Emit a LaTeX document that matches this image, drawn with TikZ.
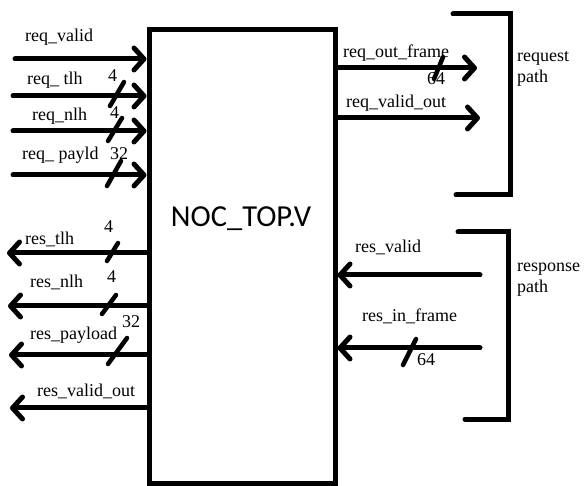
\documentclass[tikz,border=0pt]{standalone}
\usepackage{fontspec}
\setmainfont{Liberation Serif}
\newfontfamily\boxfont{Carlito}
\usetikzlibrary{arrows.meta}
\begin{document}
\begin{tikzpicture}[x=1pt,y=-1pt,
  sig/.style={line width=5pt, line cap=round, -{Straight Barb[length=10pt,width=22pt,round]}},
  busmark/.style={line width=4.5pt, line cap=round},
  brk/.style={line width=5pt, line cap=round},
  lbl/.style={anchor=base west, inner sep=0pt, font=\fontsize{18}{21}\selectfont},
  side/.style={anchor=base west, inner sep=0pt, align=left, font=\fontsize{18}{21}\selectfont}]
\useasboundingbox (0,0) rectangle (584,486);
\fill[white] (0,0) rectangle (584,486);

% main block
\node[draw, line width=5pt, minimum width=186pt, minimum height=453pt, inner sep=0pt] (box) at (242,256.5) {};
\node[anchor=base, inner sep=0pt, font=\boxfont\fontsize{30.5}{36}\selectfont] (title) at (241,227) {NOC\_TOP.V};

% left inputs
\coordinate (iv) at (15,59);
\coordinate (it) at (13,96);
\coordinate (in) at (13,131);
\coordinate (ip) at (13,175);
\draw[sig] (iv) -- (iv -| box.west);
\draw[sig] (it) -- (it -| box.west);
\draw[sig] (in) -- (in -| box.west);
\draw[sig] (ip) -- (ip -| box.west);
\node[lbl] (l1) at (25,42) {req\_valid};
\node[lbl] (l2) at (27,85) {req\_ tlh};
\node[lbl] (l2n) at (108,82) {4};
\node[lbl] (l3) at (32,121) {req\_nlh};
\node[lbl] (l3n) at (110,119) {4};
\node[lbl] (l4) at (22,160) {req\_ payld};
\node[lbl] (l4n) at (110,160) {32};
\draw[busmark] (110,106) -- (124,82);
\draw[busmark] (108,141) -- (122,118);
\draw[busmark] (107,186) -- (121,161);

% left outputs
\coordinate (ot) at (7,253);
\coordinate (on) at (8,306);
\coordinate (op) at (9,355);
\coordinate (ov) at (10,408);
\draw[sig] (ot -| box.west) -- (ot);
\draw[sig] (on -| box.west) -- (on);
\draw[sig] (op -| box.west) -- (op);
\draw[sig] (ov -| box.west) -- (ov);
\node[lbl] (r1) at (25,245) {res\_tlh};
\node[lbl] (r1n) at (104,233) {4};
\node[lbl] (r2) at (30,288) {res\_nlh};
\node[lbl] (r2n) at (107,283) {4};
\node[lbl] (r3) at (30,340) {res\_payload};
\node[lbl] (r3n) at (122,328) {32};
\node[lbl] (r4) at (37,397) {res\_valid\_out};
\draw[busmark] (107,261) -- (118,243);
\draw[busmark] (102,314) -- (116,295);
\draw[busmark] (108,364) -- (127,338);

% right outputs
\coordinate (qf) at (477,68);
\coordinate (qv) at (480,118);
\draw[sig] (qf -| box.east) -- (qf);
\draw[sig] (qv -| box.east) -- (qv);
\node[lbl] (q1) at (343,58) {req\_out\_frame};
\node[lbl] (q1n) at (427,85) {64};
\draw[busmark] (434,79) -- (443,57);
\node[lbl] (q2) at (346,108) {req\_valid\_out};

% right inputs
\coordinate (sv) at (480,275);
\coordinate (sf) at (480,348);
\draw[sig] (sv) -- (sv -| box.east);
\draw[sig] (sf) -- (sf -| box.east);
\node[lbl] (s1) at (355,253) {res\_valid};
\node[lbl] (s2) at (362,322) {res\_in\_frame};
\node[lbl] (s2n) at (417,366) {64};
\draw[busmark] (403,365) -- (416,339);

% brackets
\draw[brk] (453,14) -- (510,14) -- (510,195) -- (456,195);
\draw[brk] (458,232) -- (508,232) -- (508,419) -- (465,419);
\node[side] (p1) at (517,83) {request\\path};
\node[side] (p2) at (517,293) {response\\path};
\end{tikzpicture}
\end{document}
